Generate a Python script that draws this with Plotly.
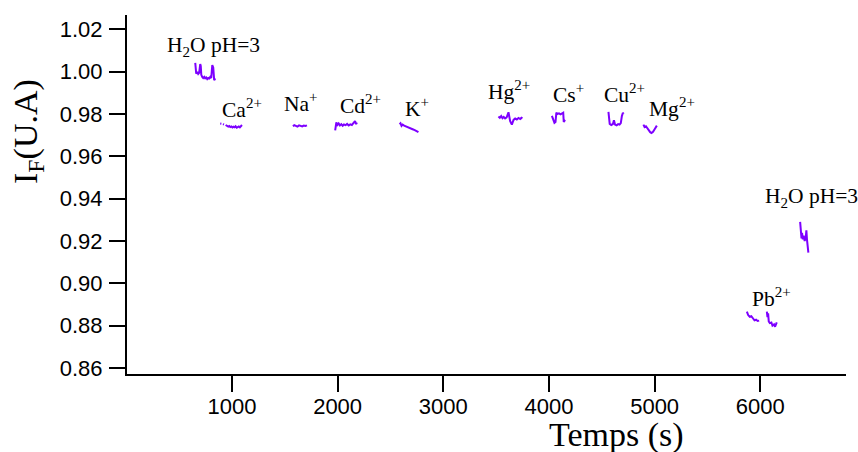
import plotly.graph_objects as go

# ---- data (time in s, fluorescence intensity in a.u.) ----
h2o_a_t = [653, 658, 662, 672, 681, 690, 700, 705, 710, 719, 728, 738, 747, 757, 766, 776, 785, 795, 804, 814, 823, 832, 842]
h2o_a_i = [1.0041, 0.9995, 0.9990, 0.9998, 0.9989, 0.9994, 1.0036, 1.0027, 0.9985, 0.9975, 0.9970, 0.9975, 0.9968, 0.9972, 0.9965, 0.9970, 0.9968, 0.9975, 0.9970, 1.0031, 1.0020, 0.9960, 0.9968]

ca_t = [889, 900, None, 915, 925, None, 940, 952, 965, 975, 985, 995, 1005, 1015, 1025, 1035, 1045, 1055, 1065, 1075, 1085, 1095]
ca_i = [0.9755, 0.9754, None, 0.9752, 0.9750, None, 0.9748, 0.9744, 0.9740, 0.9743, 0.9738, 0.9741, 0.9736, 0.9740, 0.9737, 0.9742, 0.9735, 0.9738, 0.9741, 0.9737, 0.9745, 0.9748]

na_t = [1577, 1590, 1605, 1620, 1635, 1650, 1665, 1680, 1695, 1710]
na_i = [0.9742, 0.9747, 0.9744, 0.9740, 0.9746, 0.9743, 0.9741, 0.9745, 0.9743, 0.9746]

cd_t = [1977, 1982, 1988, 1998, 2010, 2022, 2035, 2048, 2060, 2075, 2090, 2105, 2120, 2135, 2150, 2165, 2175, 2183]
cd_i = [0.9722, 0.9745, 0.9760, 0.9748, 0.9755, 0.9746, 0.9752, 0.9744, 0.9750, 0.9747, 0.9753, 0.9746, 0.9751, 0.9748, 0.9755, 0.9766, 0.9752, 0.9760]

k_t = [2586, 2595, 2605, 2615, 2630, 2650, 2670, 2690, 2710, 2730, 2750, 2765]
k_i = [0.9752, 0.9756, 0.9744, 0.9750, 0.9745, 0.9740, 0.9736, 0.9733, 0.9728, 0.9724, 0.9718, 0.9714]

hg_t = [3522, 3535, 3548, 3560, 3572, 3585, 3600, 3617, 3633, 3649, 3665, 3680, 3696, 3712, 3728, 3740, 3749]
hg_i = [0.9788, 0.9782, 0.9790, 0.9780, 0.9786, 0.9779, 0.9784, 0.9808, 0.9766, 0.9750, 0.9772, 0.9779, 0.9774, 0.9781, 0.9776, 0.9782, 0.9779]

cs_t = [4028, 4040, 4052, 4062, 4070, 4080, 4095, 4110, 4125, 4135, 4140, 4148, 4153]
cs_i = [0.9791, 0.9772, 0.9758, 0.9762, 0.9806, 0.9800, 0.9803, 0.9798, 0.9801, 0.9806, 0.9762, 0.9768, 0.9765]

cu_t = [4563, 4568, 4575, 4590, 4605, 4615, 4625, 4640, 4655, 4668, 4680, 4690, 4700, 4705]
cu_i = [0.9810, 0.9770, 0.9753, 0.9748, 0.9752, 0.9770, 0.9750, 0.9746, 0.9752, 0.9750, 0.9757, 0.9790, 0.9806, 0.9800]

mg_t = [4894, 4905, 4918, 4930, 4945, 4958, 4970, 4985, 5000, 5012, 5021]
mg_i = [0.9750, 0.9738, 0.9742, 0.9733, 0.9726, 0.9714, 0.9710, 0.9716, 0.9728, 0.9735, 0.9745]

pb_a_t = [5873, 5885, 5900, 5915, 5930, 5945, 5960, 5975, 5989]
pb_a_i = [0.8866, 0.8850, 0.8842, 0.8845, 0.8835, 0.8825, 0.8828, 0.8822, 0.8824]

pb_b_t = [6062, 6068, 6074, 6080, 6090, 6105, 6115, 6130, 6140, 6150, 6156]
pb_b_i = [0.8866, 0.8840, 0.8858, 0.8820, 0.8812, 0.8815, 0.8800, 0.8806, 0.8795, 0.8808, 0.8815]

h2o_b_t = [6377, 6380, 6385, 6390, 6395, 6402, 6410, 6420, 6430, 6436, 6442, 6448, 6452, 6455]
h2o_b_i = [0.9290, 0.9262, 0.9225, 0.9212, 0.9238, 0.9208, 0.9225, 0.9200, 0.9215, 0.9250, 0.9205, 0.9180, 0.9150, 0.9145]

segments = [
    (h2o_a_t, h2o_a_i), (ca_t, ca_i), (na_t, na_i), (cd_t, cd_i), (k_t, k_i),
    (hg_t, hg_i), (cs_t, cs_i), (cu_t, cu_i), (mg_t, mg_i),
    (pb_a_t, pb_a_i), (pb_b_t, pb_b_i), (h2o_b_t, h2o_b_i),
]

# labels: text, time and intensity where each label sits (left edge / vertical middle)
label_texts = ["H<sub>2</sub>O pH=3", "Ca<sup>2+</sup>", "Na<sup>+</sup>", "Cd<sup>2+</sup>", "K<sup>+</sup>",
               "Hg<sup>2+</sup>", "Cs<sup>+</sup>", "Cu<sup>2+</sup>", "Mg<sup>2+</sup>",
               "H<sub>2</sub>O pH=3", "Pb<sup>2+</sup>"]
label_t = [369, 889, 1476, 2006, 2621, 3406, 4021, 4504, 4930, 6022, 5904]
label_i = [1.0121, 0.9824, 0.9855, 0.9847, 0.9829, 0.9909, 0.9896, 0.9895, 0.9829, 0.9404, 0.8932]

x_ticks = [1000, 2000, 3000, 4000, 5000, 6000]
y_ticks = [0.86, 0.88, 0.90, 0.92, 0.94, 0.96, 0.98, 1.00, 1.02]

color = "rgb(125,0,255)"
fig = go.Figure()
for t, i in segments:
    fig.add_trace(go.Scatter(x=t, y=i, mode="lines", line=dict(color=color, width=2),
                             connectgaps=False, showlegend=False, hoverinfo="skip"))

serif = "Liberation Serif, Times New Roman, serif"
for txt, t, i in zip(label_texts, label_t, label_i):
    fig.add_annotation(x=t, y=i, xref="x", yref="y", text=txt, showarrow=False,
                       xanchor="left", yanchor="middle",
                       font=dict(family=serif, size=21.5, color="black"))

W, H = 858, 452
ml, mr, mt, mb = 127, 12, 15, 78
pw, ph = W - ml - mr, H - mt - mb

def paper_x(px):
    return (px - ml) / pw

def paper_y(py):
    return (H - mb - py) / ph

fig.add_annotation(x=paper_x(616), y=paper_y(435), xref="paper", yref="paper", text="Temps (s)",
                   showarrow=False, xanchor="center", yanchor="middle",
                   font=dict(family=serif, size=34, color="black"))
fig.add_annotation(x=paper_x(28), y=paper_y(132), xref="paper", yref="paper", text="I<sub>F</sub>(U.A)",
                   showarrow=False, textangle=-90, xanchor="center", yanchor="middle",
                   font=dict(family=serif, size=34, color="black"))

axis_common = dict(showline=True, linecolor="black", linewidth=2, ticks="outside", ticklen=16,
                   tickwidth=2, tickcolor="black", showgrid=False, zeroline=False, mirror=False,
                   tickfont=dict(family="Liberation Sans, Arial, sans-serif", size=22, color="black"))
fig.update_xaxes(range=[7, 6811], tickvals=x_ticks, ticktext=[str(v) for v in x_ticks],
                 ticklabelstandoff=-4, **axis_common)
fig.update_yaxes(range=[0.85717, 1.02675], tickvals=y_ticks, ticktext=[f"{v:.2f}" for v in y_ticks],
                 ticklabelstandoff=2, **axis_common)
fig.update_layout(width=W, height=H, margin=dict(l=ml, r=mr, t=mt, b=mb, autoexpand=False),
                  plot_bgcolor="white", paper_bgcolor="white", hovermode=False)
fig.write_html("out.html", config={"displayModeBar": False, "staticPlot": True},
               post_script="document.body.style.margin='0';document.body.style.overflow='hidden';")
